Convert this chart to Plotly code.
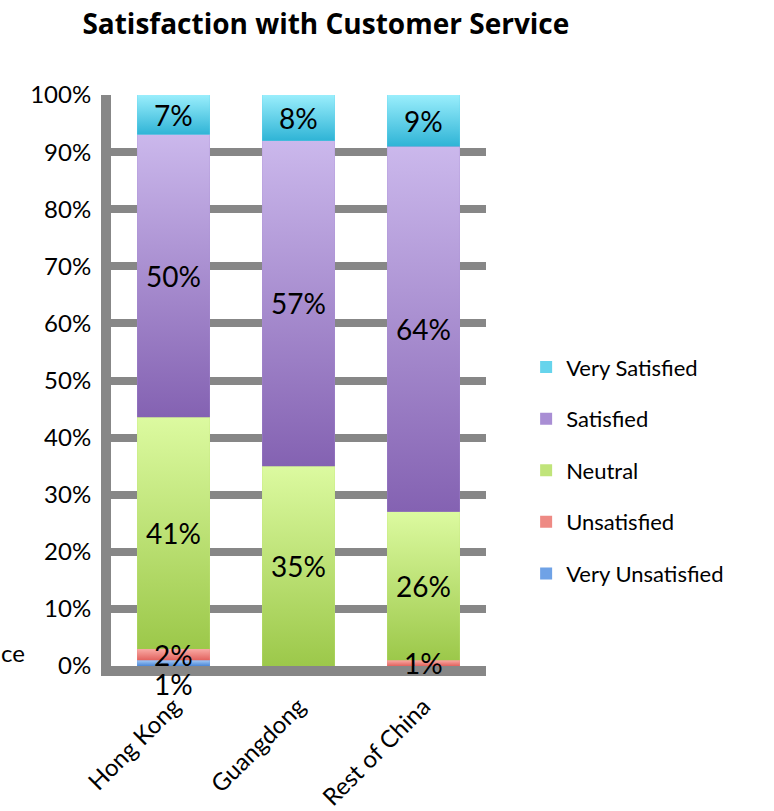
import plotly.graph_objects as go

# --- data -------------------------------------------------------------
categories = ["Hong Kong", "Guangdong", "Rest of China"]
series_names = ["Very Unsatisfied", "Unsatisfied", "Neutral", "Satisfied", "Very Satisfied"]
very_unsatisfied = [1, 0, 0]
unsatisfied = [2, 0, 1]
neutral = [41, 35, 26]
satisfied = [50, 57, 64]
very_satisfied = [7, 8, 9]
y_tick_values = [0, 10, 20, 30, 40, 50, 60, 70, 80, 90, 100]
y_tick_labels = ["0%", "10%", "20%", "30%", "40%", "50%", "60%", "70%", "80%", "90%", "100%"]

series_values = [very_unsatisfied, unsatisfied, neutral, satisfied, very_satisfied]

# --- style ------------------------------------------------------------
# (light top, dark bottom, legend/solid colour) per series
palette = {
    "Very Unsatisfied": ("#a2c8f6", "#4a86d6", "#6fa2e6"),
    "Unsatisfied": ("#f9aaa4", "#e2625e", "#ee8a84"),
    "Neutral": ("#dcfaa0", "#9cc84a", "#c0e47a"),
    "Satisfied": ("#cbb8ec", "#8462b2", "#a98ed4"),
    "Very Satisfied": ("#9aeefc", "#2fb4d6", "#66d4ec"),
}
grid_grey = "#878787"
font_family = "Lato"
bar_width = 0.58
label_size = 28

fig = go.Figure()

x_pos = list(range(len(categories)))
totals = [sum(s[i] for s in series_values) for i in x_pos]
n_series = len(series_names)

# Plain stacked bars (normalised to 100%) carry the legend entries
for k, (name, vals) in enumerate(zip(series_names, series_values)):
    fig.add_trace(go.Bar(
        x=x_pos, y=vals, name=name, width=bar_width,
        marker=dict(color=palette[name][2], line=dict(width=0)),
        legendgroup=name, legendrank=n_series - k, hoverinfo="skip",
    ))

# Gradient shading laid over each stacked segment, plus value labels
annotations = []
base = [0.0] * len(categories)
for k, (name, vals) in enumerate(zip(series_names, series_values)):
    light, dark, _ = palette[name]
    for i in x_pos:
        v = vals[i]
        if v <= 0:
            continue
        h = v / totals[i] * 100.0
        y0, y1 = base[i], base[i] + h
        x0, x1 = i - bar_width / 2, i + bar_width / 2
        fig.add_trace(go.Scatter(
            x=[x0, x1, x1, x0, x0], y=[y0, y0, y1, y1, y0],
            mode="lines", line=dict(width=0), fill="toself",
            fillgradient=dict(type="vertical", colorscale=[[0, dark], [1, light]]),
            showlegend=False, hoverinfo="skip", legendgroup=name,
            legendrank=n_series - k,
        ))
        # a sliver sitting directly under another small segment gets its label below the floor
        following = [series_values[j][i] for j in range(k + 1, n_series)]
        crowded = h < 1.5 and len(following) > 0 and 0 < following[0] < 5
        label = dict(x=i, text=f"{v}%", showarrow=False, yanchor="middle",
                     font=dict(family=font_family, size=label_size, color="black"))
        if crowded:
            label.update(y=0, yshift=-18)
        else:
            label.update(y=(y0 + y1) / 2)
        annotations.append(label)
        base[i] = y1

# fragment of side text at the left edge
annotations.append(dict(xref="paper", yref="paper", x=-0.225, y=0.0245, text="ce",
                        showarrow=False, xanchor="right", yanchor="middle",
                        font=dict(family=font_family, size=24, color="black")))

fig.update_layout(
    width=774, height=811,
    margin=dict(l=111, r=288, t=95, b=145, autoexpand=False),
    paper_bgcolor="white", plot_bgcolor="white",
    barmode="stack", barnorm="percent", bargap=0,
    title=dict(text="<b>Satisfaction with Customer Service</b>",
               x=0.421, xref="container", xanchor="center",
               y=0.970, yref="container", yanchor="middle",
               font=dict(family="Open Sans", size=28, color="black")),
    legend=dict(x=1.107, xanchor="left", y=0.560, yanchor="top",
                traceorder="grouped", tracegroupgap=20,
                font=dict(family=font_family, size=22, color="black"),
                bgcolor="rgba(0,0,0,0)"),
    annotations=annotations,
    showlegend=True,
)
fig.update_xaxes(
    range=[-0.5, 2.5], tickmode="array", tickvals=x_pos, ticktext=categories,
    tickangle=-45, showgrid=False, zeroline=False, ticklabelstandoff=7,
    automargin=False,
    showline=True, linewidth=10, linecolor=grid_grey,
    tickfont=dict(family=font_family, size=24, color="black"),
)
fig.update_yaxes(
    range=[0, 100], tickmode="array", tickvals=y_tick_values, ticktext=y_tick_labels,
    showgrid=True, gridwidth=8, gridcolor=grid_grey, zeroline=False,
    ticklabelstandoff=5, automargin=False,
    showline=True, linewidth=10, linecolor=grid_grey,
    tickfont=dict(family=font_family, size=24, color="black"),
)

fig.write_html("out.html")
